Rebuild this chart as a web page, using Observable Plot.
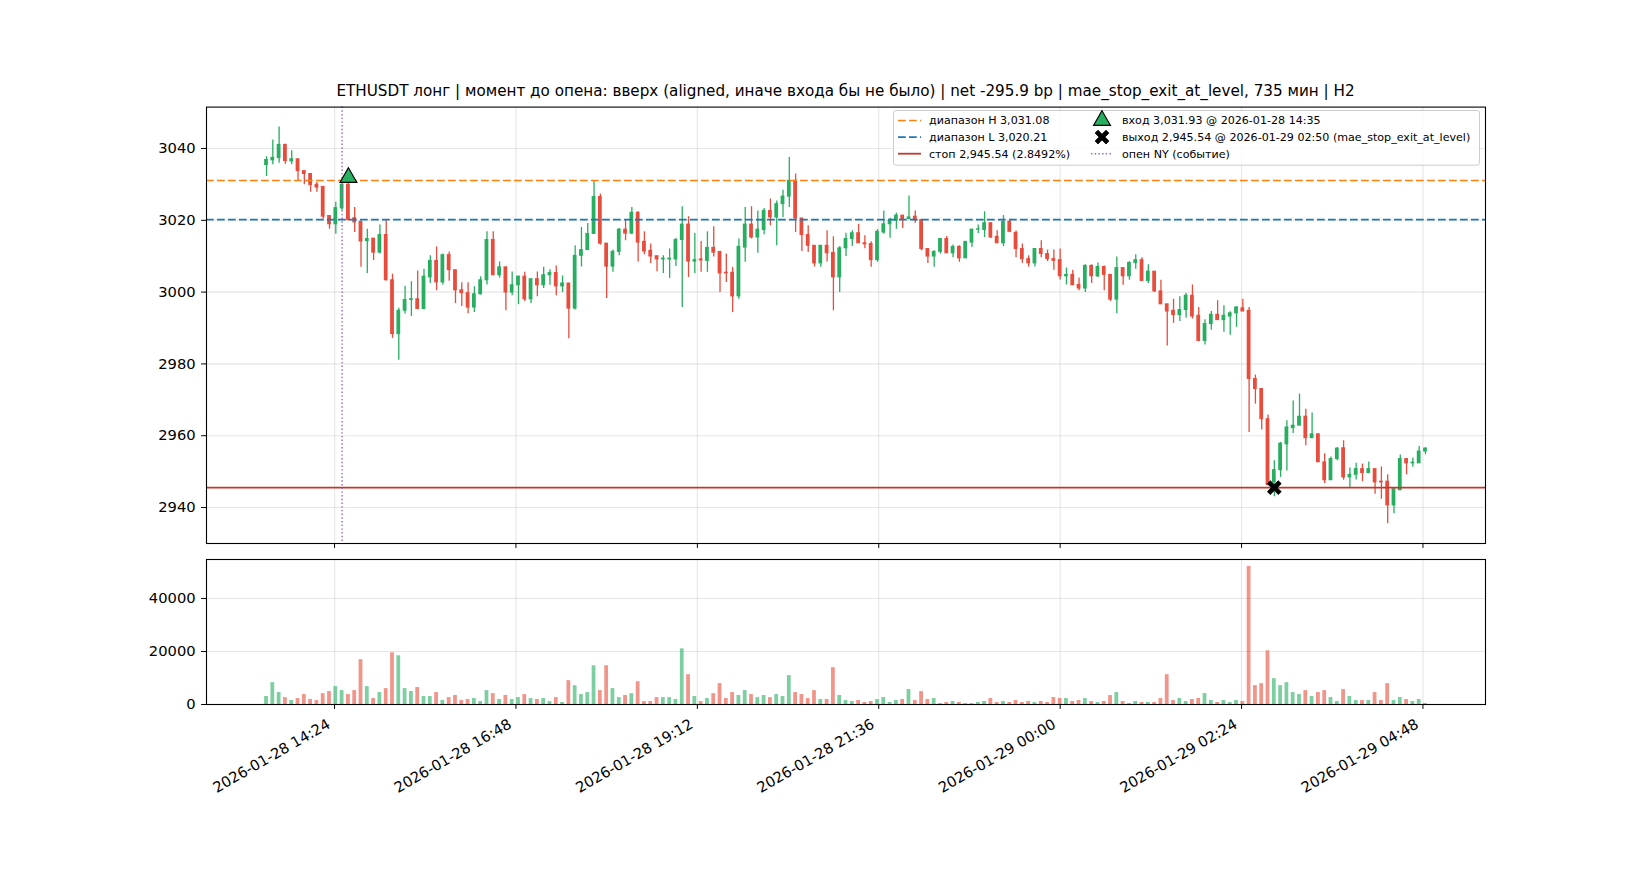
<!DOCTYPE html>
<html>
<head>
<meta charset="utf-8">
<script src="https://cdn.jsdelivr.net/npm/d3@7"></script>
<script src="https://cdn.jsdelivr.net/npm/@observablehq/plot@0.6"></script>
<style>
html,body{margin:0;padding:0;background:#fff;}
#root{position:relative;width:1650px;height:880px;overflow:hidden;font-family:"DejaVu Sans",sans-serif;color:#000;background:#fff;}
#price,#vol,#legend{position:absolute;left:0;}
#price{top:0;}
#vol{top:545px;}
#legend{top:0;}
#title{position:absolute;left:0;width:1691px;top:81px;text-align:center;font-size:15.2px;line-height:20px;white-space:nowrap;}
</style>
</head>
<body>
<div id="root">
  <div id="price"></div>
  <div id="vol"></div>
  <div id="title"></div>
  <svg id="legend" width="1650" height="880"></svg>
</div>
<script>
// ---------- data ----------
const startTime = "2026-01-28T13:30:00Z";
const stepMinutes = 5;

const opens = [
3035.4,3036.7,3037.3,3041.0,3036.4,3037.0,3033.7,3032.9,3029.9,3029.3,
3021.2,3018.9,3023.3,3029.9,3020.6,3019.6,3014.2,3014.9,3011.0,3015.9,
3003.3,2988.3,2994.8,2997.8,2998.0,2995.3,3004.1,3008.7,3002.7,3010.3,
3006.1,3000.5,2999.7,2995.7,2999.4,3003.3,3014.5,3004.7,3006.9,2999.9,
3001.9,3004.3,2998.0,3003.6,3001.9,3004.7,3005.3,3001.6,3002.4,2995.4,
3010.1,3011.7,3016.2,3026.5,3013.5,3007.1,3011.2,3017.4,3016.3,3022.1,
3014.0,3011.5,3010.0,3009.1,3009.1,3009.1,3014.5,3018.8,3008.5,3009.1,
3008.7,3012.3,3011.2,3005.4,3005.4,2998.8,3012.4,3018.8,3015.2,3017.3,
3022.6,3020.8,3024.5,3026.6,3031.0,3020.5,3015.9,3012.9,3008.0,3012.9,
3010.9,3004.1,3012.2,3014.8,3016.4,3013.6,3013.4,3008.9,3016.6,3018.9,
3019.9,3021.3,3020.3,3021.0,3020.1,3012.0,3009.9,3011.2,3014.8,3010.8,
3012.6,3009.4,3013.8,3017.4,3017.3,3019.2,3015.4,3013.6,3019.6,3016.5,
3012.0,3009.2,3008.0,3012.0,3010.6,3009.2,3008.9,3004.4,3004.8,3002.0,
3001.0,3007.3,3004.4,3007.0,3004.8,2997.9,3006.7,3004.4,3008.1,3008.9,
3003.1,3005.7,3000.2,2996.6,2994.8,2993.6,2995.0,2999.0,2993.4,2986.4,
2991.1,2993.7,2992.2,2993.2,2994.1,2995.5,2994.8,2975.8,2973.0,2964.6,
2947.0,2950.4,2957.6,2962.1,2962.8,2965.3,2959.3,2960.4,2952.6,2947.6,
2953.5,2956.5,2948.4,2949.1,2950.7,2949.6,2950.7,2947.2,2947.2,2940.6,
2944.8,2953.5,2952.3,2952.3,2955.6];

const highs = [
3037.7,3042.4,3046.0,3041.2,3039.4,3037.0,3033.7,3032.9,3030.5,3029.3,
3021.2,3025.0,3030.5,3032.0,3023.6,3019.6,3017.5,3014.9,3018.7,3020.0,
3005.0,2995.5,3001.6,3002.9,3005.9,3006.4,3010.1,3012.6,3010.6,3011.2,
3006.1,3002.6,3002.6,3001.5,3004.3,3016.8,3016.8,3008.4,3006.9,3005.6,
3004.5,3005.5,3003.6,3005.6,3006.9,3006.2,3007.3,3004.5,3002.4,3012.9,
3018.0,3019.1,3031.0,3027.3,3013.5,3011.7,3017.7,3020.0,3023.6,3022.4,
3016.8,3013.4,3010.0,3010.1,3012.0,3015.0,3023.8,3021.0,3016.3,3014.1,
3016.8,3018.2,3011.2,3010.6,3006.9,3014.8,3023.6,3023.8,3022.6,3023.3,
3025.9,3025.4,3028.4,3037.5,3032.9,3020.5,3018.5,3012.9,3012.9,3017.1,
3015.4,3012.7,3016.4,3017.1,3018.9,3015.7,3014.0,3017.4,3022.6,3020.6,
3022.0,3021.3,3026.8,3022.6,3020.1,3012.0,3011.5,3014.8,3015.5,3013.1,
3012.9,3014.0,3017.4,3018.7,3022.4,3019.2,3017.1,3021.3,3020.3,3017.0,
3013.4,3010.1,3012.0,3014.3,3011.7,3011.7,3012.0,3006.7,3006.1,3003.9,
3007.6,3007.6,3008.1,3007.3,3004.8,3009.8,3006.7,3008.5,3010.4,3009.6,
3007.6,3005.7,3003.3,2996.6,2998.0,2998.7,2999.6,3002.0,2995.7,2992.3,
2994.6,2997.6,2996.2,2994.5,2996.0,2998.0,2995.7,2976.9,2973.0,2965.8,
2953.0,2958.1,2964.2,2969.7,2971.6,2967.4,2966.3,2960.4,2955.0,2954.1,
2956.7,2958.6,2951.0,2952.3,2952.1,2952.7,2950.7,2951.3,2949.1,2945.1,
2954.6,2953.5,2953.8,2957.0,2956.7];

const lows = [
3032.2,3035.5,3035.9,3035.6,3035.5,3030.9,3029.9,3027.8,3027.8,3020.3,
3017.5,3016.1,3022.6,3019.8,3016.6,3006.9,3005.2,3008.8,3010.6,3003.1,
2987.1,2981.0,2993.9,2993.2,2995.3,2995.3,3002.4,3000.4,3002.0,3003.0,
2996.8,2996.0,2994.0,2994.3,2999.2,3002.0,3004.7,3003.9,2994.8,2999.0,
2996.5,2997.4,2996.8,2998.7,3001.0,3001.9,2999.0,2999.9,2987.0,2995.0,
3007.0,3011.7,3016.2,3013.1,2998.2,3005.5,3010.1,3014.3,3016.0,3008.4,
3010.4,3008.0,3005.7,3005.2,3003.8,3007.1,2995.7,3004.1,3005.2,3005.5,
3005.5,3009.8,2999.9,3002.7,2994.3,2998.0,3008.3,3014.8,3010.8,3016.0,
3018.5,3012.9,3020.8,3023.6,3016.6,3011.3,3011.0,3007.0,3006.9,3008.4,
2994.8,2999.9,3009.9,3012.7,3013.6,3012.1,3006.9,3008.3,3016.1,3015.0,
3017.5,3017.7,3020.3,3019.2,3011.5,3008.0,3006.9,3010.6,3010.8,3009.6,
3008.3,3009.4,3012.4,3016.3,3015.2,3014.9,3013.6,3012.7,3016.5,3009.6,
3008.0,3007.0,3007.0,3009.6,3008.5,3006.1,3003.4,3002.0,3001.9,3000.4,
2999.9,3002.4,3004.1,3000.4,2997.4,2994.0,3001.9,3003.3,3006.4,3003.0,
3002.4,2999.9,2996.6,2985.0,2991.3,2991.8,2992.7,2992.5,2986.2,2985.3,
2989.4,2992.2,2988.8,2988.0,2990.2,2994.6,2960.9,2968.8,2961.6,2946.0,
2943.0,2948.4,2950.2,2960.6,2962.8,2957.2,2959.3,2952.6,2946.7,2947.6,
2953.0,2947.6,2945.6,2947.7,2947.2,2949.6,2943.7,2942.3,2935.5,2938.3,
2944.8,2949.1,2951.2,2952.3,2954.7];

const closes = [
3036.8,3037.4,3041.0,3036.5,3037.0,3033.7,3032.9,3029.8,3029.1,3021.0,
3018.9,3023.4,3029.9,3020.1,3019.4,3014.1,3014.8,3011.0,3015.9,3003.3,
2988.3,2994.8,2997.8,2998.0,2995.3,3004.3,3008.7,3002.7,3010.3,3006.1,
3000.5,2999.7,2995.7,2999.4,3003.3,3014.5,3004.7,3006.9,2999.9,3001.9,
3004.3,2998.0,3003.6,3001.9,3004.7,3005.3,3001.6,3002.4,2995.4,3010.1,
3011.7,3016.2,3026.5,3013.5,3007.1,3011.2,3017.4,3016.3,3022.1,3013.8,
3011.3,3009.9,3009.1,3009.3,3009.3,3014.5,3018.8,3008.5,3008.9,3008.8,
3012.3,3011.0,3005.2,3005.2,2998.8,3012.6,3018.8,3015.2,3017.4,3022.6,
3020.8,3024.5,3026.6,3031.0,3020.5,3015.9,3012.9,3008.0,3012.9,3010.8,
3004.1,3012.2,3014.8,3016.4,3013.6,3013.3,3008.9,3016.8,3018.9,3019.9,
3021.3,3020.3,3020.8,3020.0,3012.0,3009.9,3011.2,3014.8,3010.8,3012.6,
3009.4,3014.0,3017.4,3017.5,3019.2,3015.2,3013.6,3019.6,3016.8,3012.0,
3009.2,3008.0,3012.0,3010.6,3009.2,3008.7,3004.4,3004.8,3001.9,3001.0,
3007.3,3004.4,3007.0,3004.8,2997.9,3006.7,3004.4,3008.1,3008.9,3003.1,
3005.7,3000.2,2996.6,2994.6,2993.6,2995.0,2999.0,2993.2,2986.4,2991.1,
2993.7,2992.2,2993.4,2994.1,2995.7,2994.6,2975.8,2973.0,2964.6,2946.3,
2950.4,2957.8,2962.3,2962.8,2965.3,2959.3,2960.4,2952.6,2947.6,2953.5,
2956.4,2948.4,2949.1,2950.7,2949.6,2950.7,2947.0,2947.0,2940.6,2945.1,
2953.5,2952.3,2952.5,2955.6,2956.4];

const volumes = [
3000,8250,4500,2600,1500,2250,3750,1900,1500,4100,
4900,6750,5250,3750,5250,16900,6750,2250,4500,6000,
19500,18400,6000,4900,6400,3000,3000,4500,1500,2600,
3400,1500,1900,2250,1100,5250,4100,1900,3400,1900,
2600,3750,2250,1900,2250,1100,2600,750,9000,7100,
3750,4500,14600,5250,14600,6000,2600,3400,4100,8600,
1100,1100,2600,2600,2600,1900,21000,11250,3000,1100,
2250,4100,7900,2250,4500,3400,5250,3750,2600,3400,
2600,3750,3000,10900,4500,3750,2250,5250,1900,1900,
13900,3400,1500,1125,1500,750,1125,1875,2625,750,
1500,1875,5625,1500,4875,1875,2250,375,750,1125,
750,375,375,750,1125,2250,750,1125,750,1500,
750,1125,750,1125,750,2625,2250,2250,1125,1500,
2250,1125,750,1125,3375,4500,1125,375,1125,750,
750,750,2250,11250,1500,2250,1125,1875,2250,4125,
1500,750,1500,750,1500,1125,52125,7125,7875,20250,
9750,7125,8250,4500,3750,5250,3000,4500,5250,2625,
1125,5625,3000,1500,1500,1500,4500,1500,7875,1500,
2625,1875,1125,1875,375];

const xTickLabels = ["2026-01-28 14:24","2026-01-28 16:48","2026-01-28 19:12","2026-01-28 21:36","2026-01-29 00:00","2026-01-29 02:24","2026-01-29 04:48"];
const priceTicks = [2940, 2960, 2980, 3000, 3020, 3040];
const volumeTicks = [0, 20000, 40000];

const rangeHigh = 3031.08;
const rangeLow = 3020.21;
const stopLevel = 2945.54;
const entryTime = "2026-01-28 14:35", entryPrice = 3031.93;
const exitTime = "2026-01-29 02:50", exitPrice = 2945.54;
const nyOpenTime = "2026-01-28 14:30";

const titleText = "ETHUSDT лонг | момент до опена: вверх (aligned, иначе входа бы не было) | net -295.9 bp | mae_stop_exit_at_level, 735 мин | H2";
const legendLabels = [
  "диапазон H 3,031.08",
  "диапазон L 3,020.21",
  "стоп 2,945.54 (2.8492%)",
  "вход 3,031.93 @ 2026-01-28 14:35",
  "выход 2,945.54 @ 2026-01-29 02:50 (mae_stop_exit_at_level)",
  "опен NY (событие)"
];

// ---------- build ----------
const GREEN = "#27ae60", RED = "#e74c3c";
const C_H = "#ff7f0e", C_L = "#1f77b4", C_STOP = "#c0392b", C_NY = "#9467bd";
const parseT = s => new Date(s.replace(" ", "T") + ":00Z");
const t0 = +new Date(startTime);
const candles = opens.map((o, i) => ({
  time: new Date(t0 + i * stepMinutes * 60000),
  open: o, high: highs[i], low: lows[i], close: closes[i], volume: volumes[i],
  color: closes[i] >= o ? GREEN : RED
}));
const xTicks = xTickLabels.map(parseT);
const halfBody = 90000; // 3-minute body width
const xDomain = [new Date("2026-01-28T12:42:21Z"), new Date("2026-01-29T05:37:39Z")];

const symbolX = {
  draw(ctx, size) {
    const r = Math.sqrt(size / Math.PI);
    const L = r * 1.12, t = r * 0.30;
    const pts = [[t,t],[L,t],[L,-t],[t,-t],[t,-L],[-t,-L],[-t,-t],[-L,-t],[-L,t],[-t,t],[-t,L],[t,L]];
    const c = Math.SQRT1_2;
    pts.forEach(([x, y], i) => {
      const X = (x - y) * c, Y = (x + y) * c;
      i ? ctx.lineTo(X, Y) : ctx.moveTo(X, Y);
    });
    ctx.closePath();
  }
};

const gridStyle = {stroke: "#b0b0b0", strokeOpacity: 0.32, strokeWidth: 1.1};
const baseStyle = {fontFamily: "DejaVu Sans", fontSize: "14.7px", color: "black", background: "transparent", overflow: "visible"};

const price = Plot.plot({
  width: 1650, height: 560,
  marginLeft: 206, marginRight: 165, marginTop: 106.6, marginBottom: 17,
  x: {type: "utc", domain: xDomain, axis: null, label: null},
  y: {domain: [2929.98, 3051.53], axis: null, label: null},
  color: {type: "identity"},
  style: baseStyle,
  marks: [
    Plot.gridX(xTicks, gridStyle),
    Plot.gridY(priceTicks, gridStyle),
    Plot.ruleX(candles, {x: "time", y1: "low", y2: "high", stroke: "color", strokeWidth: 1.3}),
    Plot.rect(candles, {
      x1: d => new Date(+d.time - halfBody), x2: d => new Date(+d.time + halfBody),
      y1: "open", y2: "close", fill: "color", insetTop: -0.5, insetBottom: -0.5
    }),
    Plot.ruleY([rangeHigh], {stroke: C_H, strokeWidth: 1.7, strokeDasharray: "7.7,3.3"}),
    Plot.ruleY([rangeLow], {stroke: C_L, strokeWidth: 1.7, strokeDasharray: "7.7,3.3"}),
    Plot.ruleY([stopLevel], {stroke: C_STOP, strokeWidth: 1.8}),
    Plot.ruleX([parseT(nyOpenTime)], {stroke: C_NY, strokeWidth: 1.4, strokeDasharray: "1.4,2.3"}),
    Plot.dot([{t: parseT(entryTime), p: entryPrice}], {x: "t", y: "p", symbol: "triangle", r: 6.3, fill: GREEN, stroke: "black", strokeWidth: 1.1}),
    Plot.dot([{t: parseT(exitTime), p: exitPrice}], {x: "t", y: "p", symbol: symbolX, r: 6.9, fill: "black", stroke: "black", strokeWidth: 0.8}),
    Plot.axisY(priceTicks, {tickSize: 4.9, tickPadding: 6, tickFormat: d => String(d), label: null}),
    Plot.axisX(xTicks, {tickSize: 4.9, tickFormat: () => "", label: null}),
    Plot.frame({stroke: "black", strokeWidth: 1.1})
  ]
});
document.getElementById("price").appendChild(price);

const vol = Plot.plot({
  width: 1650, height: 335,
  marginLeft: 206, marginRight: 165, marginTop: 14, marginBottom: 176,
  x: {type: "utc", domain: xDomain, axis: null, label: null},
  y: {domain: [0, d3.max(volumes) * 1.05], axis: null, label: null},
  color: {type: "identity"},
  style: baseStyle,
  marks: [
    Plot.gridX(xTicks, gridStyle),
    Plot.gridY(volumeTicks, gridStyle),
    Plot.rect(candles, {
      x1: d => new Date(+d.time - halfBody), x2: d => new Date(+d.time + halfBody),
      y1: 0, y2: "volume", fill: "color", fillOpacity: 0.6
    }),
    Plot.axisY(volumeTicks, {tickSize: 4.9, tickPadding: 6, tickFormat: d => String(d), label: null}),
    Plot.axisX(xTicks, {tickSize: 4.9, tickFormat: () => "", label: null}),
    Plot.text(xTicks, {
      x: d => d, frameAnchor: "bottom", text: (d, i) => xTickLabels[i],
      rotate: -30, textAnchor: "end", lineAnchor: "top", dx: -8.5, dy: 13.5, fill: "black"
    }),
    Plot.frame({stroke: "black", strokeWidth: 1.1})
  ]
});
document.getElementById("vol").appendChild(vol);

document.getElementById("title").textContent = titleText;

// ---------- legend ----------
const lg = d3.select("#legend");
lg.append("rect").attr("x", 893.5).attr("y", 110.5).attr("width", 586).attr("height", 54.7)
  .attr("rx", 2.5).attr("fill", "white").attr("fill-opacity", 0.8).attr("stroke", "#cccccc").attr("stroke-width", 1);
const rowsY = [120.5, 137.1, 153.7];
const lines = [
  {c: C_H, dash: "7.7,3.3", w: 1.7},
  {c: C_L, dash: "7.7,3.3", w: 1.7},
  {c: C_STOP, dash: null, w: 1.8}
];
lines.forEach((l, i) => {
  const ln = lg.append("line").attr("x1", 898).attr("x2", 921).attr("y1", rowsY[i]).attr("y2", rowsY[i])
    .attr("stroke", l.c).attr("stroke-width", l.w);
  if (l.dash) ln.attr("stroke-dasharray", l.dash);
});
const tri = d3.symbol(d3.symbolTriangle, 6.3 * 6.3 * Math.PI)();
lg.append("path").attr("d", tri).attr("transform", `translate(1102,${rowsY[0]})`)
  .attr("fill", GREEN).attr("stroke", "black").attr("stroke-width", 1.1);
const xs = d3.symbol(symbolX, 6.9 * 6.9 * Math.PI)();
lg.append("path").attr("d", xs).attr("transform", `translate(1102,${rowsY[1]})`)
  .attr("fill", "black").attr("stroke", "black").attr("stroke-width", 0.8);
lg.append("line").attr("x1", 1091).attr("x2", 1113).attr("y1", rowsY[2]).attr("y2", rowsY[2])
  .attr("stroke", C_NY).attr("stroke-width", 1.4).attr("stroke-dasharray", "1.4,2.3");
legendLabels.forEach((t, i) => {
  const col = Math.floor(i / 3), row = i % 3;
  lg.append("text").attr("x", col ? 1122 : 929).attr("y", rowsY[row]).attr("dy", "0.36em")
    .attr("font-family", "DejaVu Sans").attr("font-size", "11.1px").attr("fill", "black").text(t);
});
</script>
</body>
</html>
